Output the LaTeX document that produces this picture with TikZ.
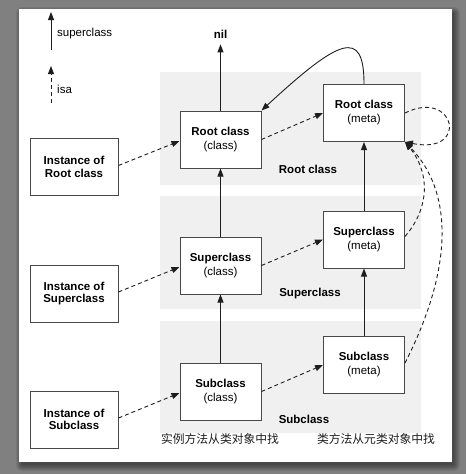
\documentclass[tikz,border=0pt]{standalone}
\usepackage{fontspec}
\setmainfont{Liberation Sans}
\newfontfamily\cjk{Noto Sans CJK SC}
\usetikzlibrary{arrows.meta}
\definecolor{bg}{RGB}{128,128,128}
\definecolor{panel}{RGB}{240,240,240}
\definecolor{edge}{RGB}{72,72,72}
\definecolor{ink}{RGB}{30,30,30}
\begin{document}
\begin{tikzpicture}[x=1pt,y=-1pt,
  box/.style={draw=edge,line width=1pt,fill=white,minimum width=81pt,minimum height=57pt,inner sep=0pt,align=center,font=\fontsize{11.5}{14}\selectfont},
  ibox/.style={box,minimum width=88pt,font=\fontsize{11.5}{12.7}\selectfont\bfseries},
  suparrow/.style={draw=ink,line width=0.9pt,-{Triangle[length=8pt,width=6pt]}},
  isaarrow/.style={suparrow,dash pattern=on 4pt off 3pt},
  lbl/.style={font=\fontsize{11.5}{14}\selectfont\bfseries,inner sep=0pt},
  legend/.style={font=\fontsize{11.5}{14}\selectfont,inner sep=0pt,anchor=west},
  cjktext/.style={font=\fontsize{11.8}{14}\selectfont\cjk,inner sep=0pt,text=ink},
  panelbox/.style={fill=panel,draw=none}
]
% background and page
\useasboundingbox (0,0) rectangle (466,474);
\fill[bg] (0,0) rectangle (466,474);
\foreach \i in {0,...,6}{
  \fill[black,opacity=0.07,rounded corners=\i pt] (22-\i,13-\i) rectangle (454+\i,465+\i);
}
\fill[white] (19,9) rectangle (452,462);

% panels
\fill[panelbox] (160,72) rectangle (421,185);
\fill[panelbox] (160,196) rectangle (421,309);
\fill[panelbox] (160,321) rectangle (421,433);

% legend
\coordinate (s1) at (51,50);
\coordinate (s2) at (51,12);
\coordinate (i1) at (51,103);
\coordinate (i2) at (51,66);
\draw[suparrow] (s1) -- (s2);
\draw[isaarrow] (i1) -- (i2);
\node[legend] (lsup) at (57,34) {superclass};
\node[legend] (lisa) at (57,89) {isa};

% nodes
\node[lbl,inner sep=3pt] (nil) at (220.5,34) {nil};

\node[box] (rc) at (220.5,139.5) {\textbf{Root class}\\(class)};
\node[box] (rm) at (364,113) {\textbf{Root class}\\(meta)};
\node[box] (sc) at (220.5,265.5) {\textbf{Superclass}\\(class)};
\node[box] (sm) at (364,239.5) {\textbf{Superclass}\\(meta)};
\node[box] (bc) at (220.5,391.5) {\textbf{Subclass}\\(class)};
\node[box] (bm) at (364,365) {\textbf{Subclass}\\(meta)};

\node[ibox] (ri) at (74,167) {Instance of\\Root class};
\node[ibox] (si) at (74,293.5) {Instance of\\Superclass};
\node[ibox] (bi) at (74,419.5) {Instance of\\Subclass};

\node[lbl] (lr) at (308,169) {Root class};
\node[lbl] (ls) at (310,294) {Superclass};
\node[lbl] (lb) at (304,419) {Subclass};

\node[cjktext] (c1) at (220,439) {实例方法从类对象中找};
\node[cjktext] (c2) at (376,439) {类方法从元类对象中找};

% superclass arrows
\draw[suparrow] (bc.north) -- (sc.south);
\draw[suparrow] (sc.north) -- (rc.south);
\draw[suparrow] (rc.north) -- ([yshift=-3pt]nil.south);
\draw[suparrow] (bm.north) -- (sm.south);
\draw[suparrow] (sm.north) -- (rm.south);
\draw[suparrow] (rm.north) .. controls (364,28) and (340,38) .. (rc.north east);

% isa arrows
\draw[isaarrow] ([yshift=1.5pt]ri.east) -- ([yshift=-1.5pt]rc.west);
\draw[isaarrow] ([yshift=1.5pt]si.east) -- ([yshift=-1.5pt]sc.west);
\draw[isaarrow] ([yshift=1.5pt]bi.east) -- ([yshift=-1.5pt]bc.west);
\draw[isaarrow] (rc.east) -- (rm.west);
\draw[isaarrow] (sc.east) -- (sm.west);
\draw[isaarrow] (bc.east) -- (bm.west);
\draw[isaarrow] (rm.east) .. controls (455,88) and (470,155) .. (rm.south east);
\draw[isaarrow] ([yshift=3pt]sm.east) .. controls (432,205) and (428,170) .. (rm.south east);
\draw[isaarrow] ([yshift=2pt]bm.east) .. controls (455,265) and (452,190) .. (rm.south east);
\end{tikzpicture}
\end{document}
